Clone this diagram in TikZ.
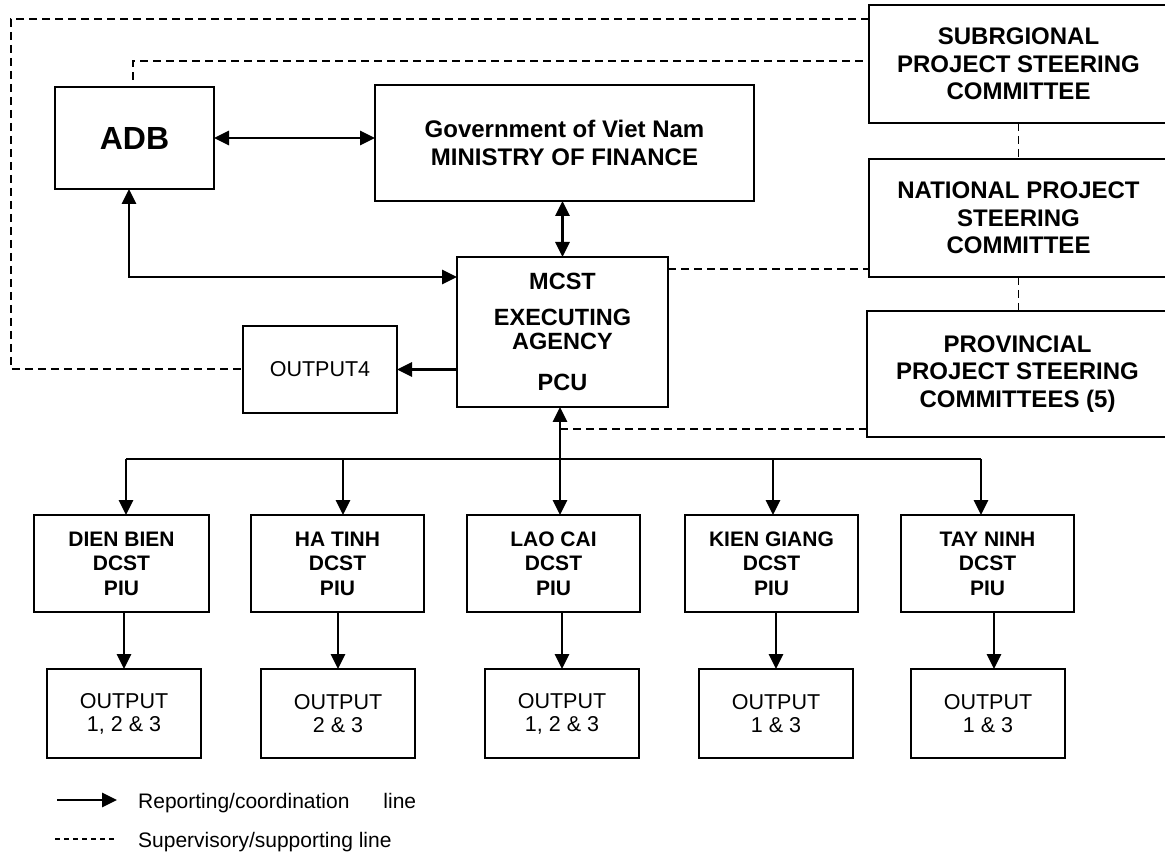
\documentclass[tikz,border=0pt]{standalone}
\usepackage{fontspec}
\setmainfont{Liberation Sans}
\usetikzlibrary{arrows.meta}
\begin{document}
\begin{tikzpicture}[x=1pt,y=-1pt,
 box/.style={draw, line width=2.2pt, inner sep=0pt, outer sep=0pt, align=center, anchor=north west},
 hb/.style={font=\bfseries\fontsize{24}{27.5}\selectfont},
 pb/.style={font=\bfseries\fontsize{21}{24.5}\selectfont},
 ob/.style={font=\fontsize{21.5}{23}\selectfont},
 arr/.style={line width=2.8pt, -{Triangle[length=15pt,width=14pt]}},
 darr/.style={line width=2.8pt, {Triangle[length=15pt,width=14pt]}-{Triangle[length=15pt,width=14pt]}},
 bus/.style={line width=2pt},
 dsh/.style={line width=1.8pt, dash pattern=on 8pt off 5pt},
 leg/.style={anchor=west, inner sep=0pt, font=\fontsize{21}{24}\selectfont},
]
\useasboundingbox (0,0) rectangle (1165,858);
\fill[white] (0,0) rectangle (1165,858);

% top nodes
\node[box, minimum width=159pt, minimum height=102pt, font=\bfseries\fontsize{32}{36}\selectfont] (adb) at (55,87) {ADB};
\node[box, hb, minimum width=379pt, minimum height=116pt] (mof) at (375,85) {Government of Viet Nam\\MINISTRY OF FINANCE};
\node[box, minimum width=211pt, minimum height=150pt, font=\bfseries\fontsize{23.5}{24}\selectfont] (mcst) at (457,257) {MCST\\[12pt]EXECUTING\\AGENCY\\[17pt]PCU};
\node[box, ob, minimum width=154pt, minimum height=87pt] (out4) at (243,326) {OUTPUT4};
\node[box, hb, minimum width=299pt, minimum height=118pt] (sub) at (869,5) {SUBRGIONAL\\PROJECT STEERING\\COMMITTEE};
\node[box, hb, minimum width=299pt, minimum height=118pt] (nat) at (869,159) {NATIONAL PROJECT\\STEERING\\COMMITTEE};
\node[box, hb, minimum width=301pt, minimum height=126pt] (prov) at (867,311) {PROVINCIAL\\PROJECT STEERING\\COMMITTEES (5)};

% PIU nodes
\node[box, pb, minimum width=175pt, minimum height=97pt] (dien) at (34,515) {DIEN BIEN\\DCST\\PIU};
\node[box, pb, minimum width=173pt, minimum height=97pt] (ha) at (251,515) {HA TINH\\DCST\\PIU};
\node[box, pb, minimum width=173pt, minimum height=97pt] (lao) at (467,515) {LAO CAI\\DCST\\PIU};
\node[box, pb, minimum width=173pt, minimum height=97pt] (kien) at (685,515) {KIEN GIANG\\DCST\\PIU};
\node[box, pb, minimum width=173pt, minimum height=97pt] (tay) at (901,515) {TAY NINH\\DCST\\PIU};

% output nodes
\node[box, ob, minimum width=154pt, minimum height=89pt] (o1) at (47,669) {OUTPUT\\1, 2 \& 3};
\node[box, ob, minimum width=154pt, minimum height=89pt] (o2) at (261,669) {OUTPUT\\2 \& 3};
\node[box, ob, minimum width=154pt, minimum height=89pt] (o3) at (485,669) {OUTPUT\\1, 2 \& 3};
\node[box, ob, minimum width=154pt, minimum height=89pt] (o4) at (699,669) {OUTPUT\\1 \& 3};
\node[box, ob, minimum width=154pt, minimum height=89pt] (o5) at (911,669) {OUTPUT\\1 \& 3};

% solid connectors
\draw[darr] (adb.east) -- (adb.east -| mof.west);
\draw[darr] (mcst.north |- mof.south) -- (mcst.north);
\coordinate (ak) at (129,277);
\draw[darr] (adb.south -| ak) -- (ak) -- (ak -| mcst.west);
\draw[arr] (out4.east -| mcst.west) -- (out4.east);

\coordinate (b1) at (126,459);
\coordinate (b2) at (343,459);
\coordinate (b3) at (560,459);
\coordinate (b4) at (773,459);
\coordinate (b5) at (981,459);
\draw[bus] (b1) -- (b5);
\draw[arr] (b1) -- (b1 |- dien.north);
\draw[arr] (b2) -- (b2 |- ha.north);
\draw[darr] (b3 |- mcst.south) -- (b3 |- lao.north);
\draw[arr] (b4) -- (b4 |- kien.north);
\draw[arr] (b5) -- (b5 |- tay.north);

\draw[arr] (o1.north |- dien.south) -- (o1.north);
\draw[arr] (o2.north |- ha.south) -- (o2.north);
\draw[arr] (o3.north |- lao.south) -- (o3.north);
\draw[arr] (o4.north |- kien.south) -- (o4.north);
\coordinate (t5) at (994,612);
\draw[arr] (t5 |- tay.south) -- (t5 |- o5.north);

% dashed connectors
\coordinate (tl) at (11,19);
\coordinate (bl) at (11,369);
\draw[dsh] (tl -| sub.west) -- (tl) -- (bl) -- (bl -| out4.west);
\coordinate (as) at (133,80);
\coordinate (at) at (133,61);
\draw[dsh] (as) -- (at) -- (at -| sub.west);
\draw[dsh] (sub.south) -- (nat.north);
\draw[dsh] (nat.south) -- (nat.south |- prov.north);
\coordinate (mn) at (668,269);
\draw[dsh] (mcst.east |- mn) -- (mn -| nat.west);
\coordinate (pd) at (560,429);
\draw[dsh] (pd) -- (pd -| prov.west);

% legend
\coordinate (la1) at (57,800);
\coordinate (la2) at (117,800);
\draw[arr] (la1) -- (la2);
\node[leg] (lt1) at (138,803) {Reporting/coordination\hspace{34pt}line};
\coordinate (ld1) at (55,839);
\coordinate (ld2) at (115,839);
\draw[line width=1.2pt, dash pattern=on 5pt off 4pt] (ld1) -- (ld2);
\node[leg] (lt2) at (138,842) {Supervisory/supporting line};
\end{tikzpicture}
\end{document}
